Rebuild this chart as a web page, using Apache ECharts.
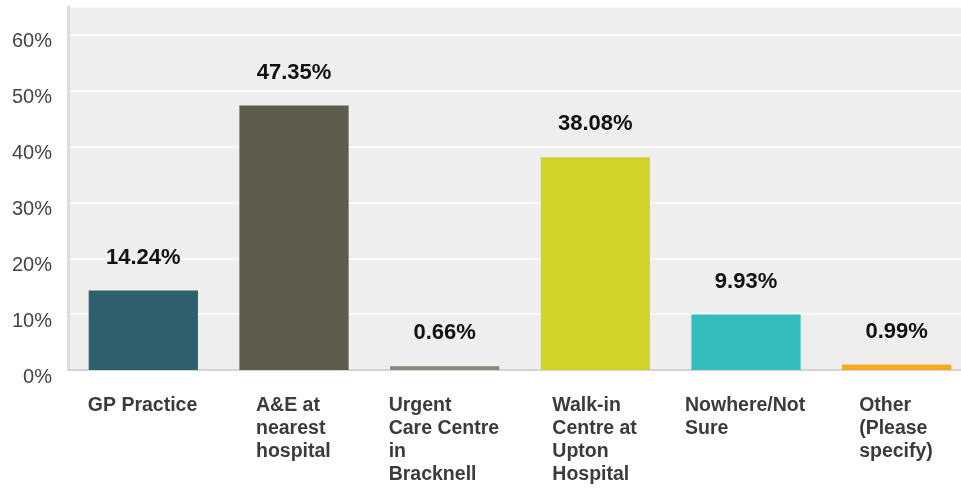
<!DOCTYPE html>
<html>
<head>
<meta charset="utf-8">
<script src="https://cdn.jsdelivr.net/npm/echarts@6/dist/echarts.min.js"></script>
<style>
  html, body { margin: 0; padding: 0; background: #fff; overflow: hidden; }
  /* 图表区比窗口略宽，右侧被裁掉（与原图一致） */
  #mainChart { width: 972px; height: 490px; }
</style>
</head>
<body>
<div id="mainChart"></div>
<script>
// 数据
var categories = [
  'GP Practice',
  'A&E at\nnearest\nhospital',
  'Urgent\nCare Centre\nin\nBracknell',
  'Walk-in\nCentre at\nUpton\nHospital',
  'Nowhere/Not\nSure',
  'Other\n(Please\nspecify)'
];
var values = [14.24, 47.35, 0.66, 38.08, 9.93, 0.99];
var yTicks = [0, 10, 20, 30, 40, 50, 60];
var colorList = ['#2e5f6d', '#5c5b4c', '#89897a', '#d0d42a', '#33bdbf', '#f5ab1f'];

var labelFont = 'bold 19.5px "Liberation Sans", Arial, sans-serif';

// 每个分类标签的块宽度（多行左对齐，整体居中）
var ctx = document.createElement('canvas').getContext('2d');
ctx.font = labelFont;
var rich = {};
categories.forEach(function(name, i) {
  var w = 0;
  name.split('\n').forEach(function(line) {
    w = Math.max(w, ctx.measureText(line).width);
  });
  rich['c' + i] = {
    width: Math.ceil(w) + 1,
    align: 'left',
    fontFamily: '"Liberation Sans", Arial, sans-serif',
    fontWeight: 'bold',
    fontSize: 19.5,
    lineHeight: 23,
    color: '#3b3b3b'
  };
});

var myChart = echarts.init(document.getElementById('mainChart'));
var option = {
  backgroundColor: '#ffffff',
  animation: false,
  grid: {
    left: 68,
    right: 0,
    top: 7,
    bottom: 120,
    show: true,
    backgroundColor: '#eeeeee',
    borderWidth: 0
  },
  xAxis: {
    type: 'category',
    data: categories,
    axisTick: { show: false },
    axisLine: { lineStyle: { color: '#d4d4d4', width: 2 } },
    axisLabel: {
      interval: 0,
      margin: 24,
      verticalAlign: 'top',
      formatter: function(value, idx) {
        return value.split('\n').map(function(line) {
          return '{c' + idx + '|' + line + '}';
        }).join('\n');
      },
      rich: rich
    }
  },
  yAxis: {
    type: 'value',
    min: yTicks[0],
    max: 65,
    interval: 10,
    axisLine: { show: true, lineStyle: { color: '#dcdcdc', width: 3 } },
    axisTick: { show: false },
    splitLine: { lineStyle: { color: '#fafafa', width: 2 } },
    axisLabel: {
      showMaxLabel: false,
      margin: 16,
      // 刻度文字比网格线略低
      verticalAlign: 'top',
      lineHeight: 14,
      fontFamily: '"Liberation Sans", Arial, sans-serif',
      fontSize: 20,
      color: '#444444',
      formatter: '{value}%'
    }
  },
  series: [
    {
      type: 'bar',
      data: values,
      barCategoryGap: '27.5%',
      itemStyle: {
        color: function(params) {
          return colorList[params.dataIndex];
        }
      },
      label: {
        show: true,
        position: 'top',
        distance: 22,
        fontFamily: '"Liberation Sans", Arial, sans-serif',
        fontWeight: 'bold',
        fontSize: 22,
        color: '#111111',
        formatter: function(p) {
          return p.value.toFixed(2) + '%';
        }
      }
    }
  ]
};
myChart.setOption(option);
</script>
</body>
</html>
